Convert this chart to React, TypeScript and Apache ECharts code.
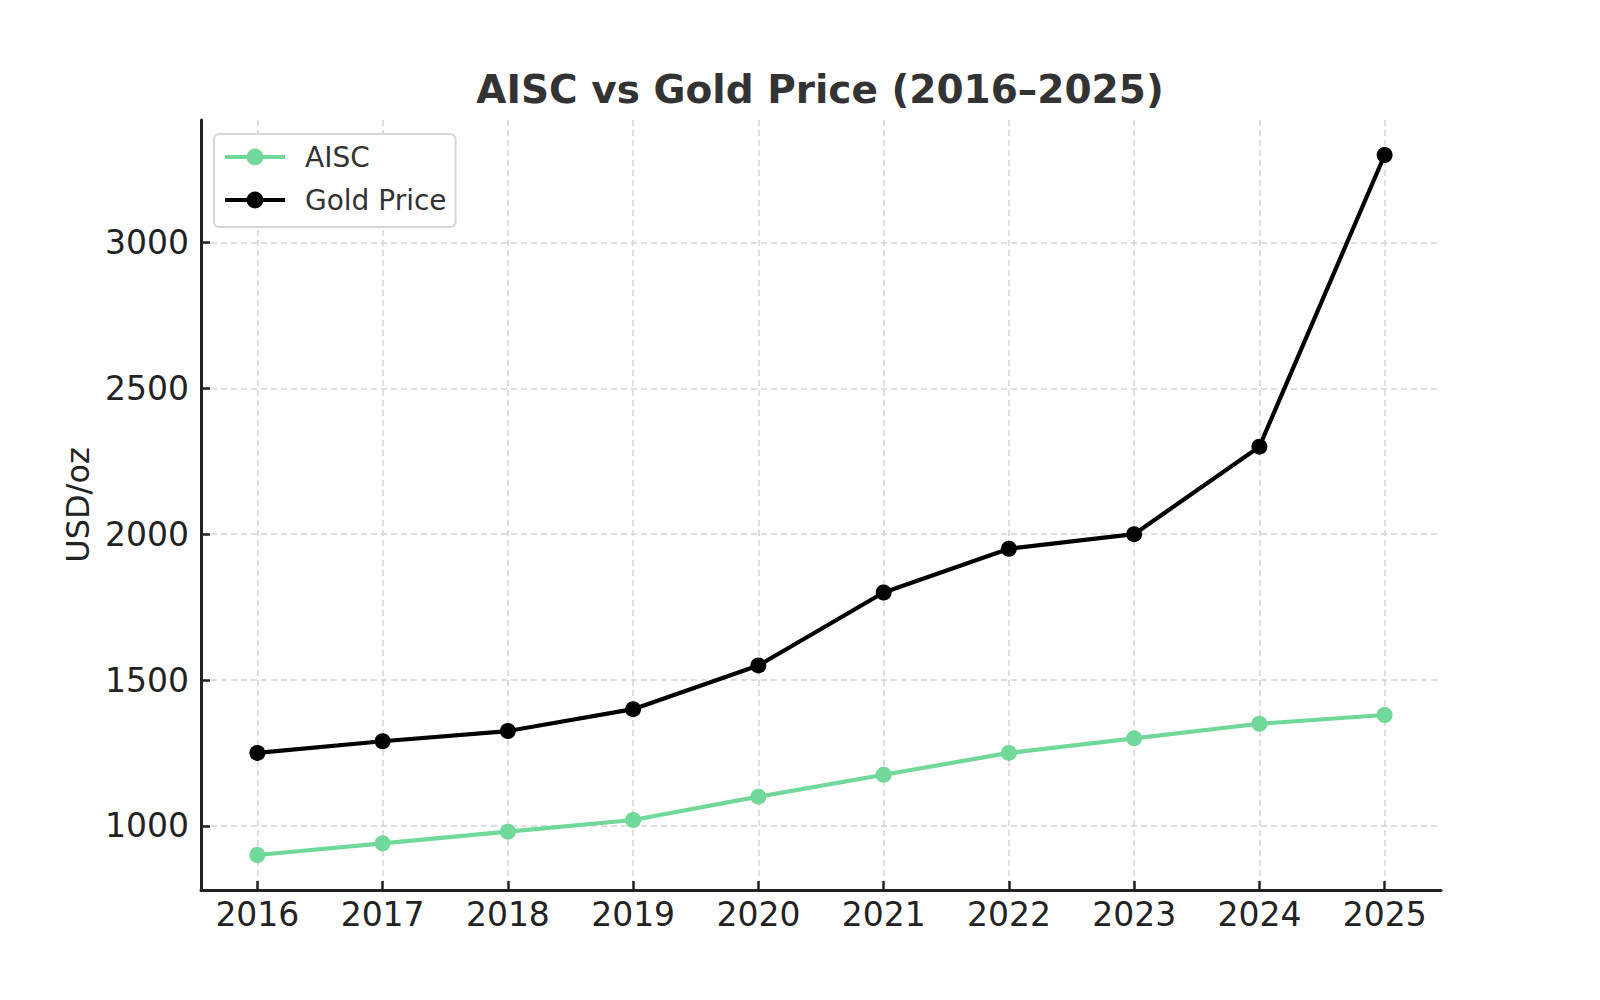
import React, { useEffect, useRef } from "react";
import * as echarts from "echarts";

const years = [2016, 2017, 2018, 2019, 2020, 2021, 2022, 2023, 2024, 2025];
const aisc = [900, 940, 980, 1020, 1100, 1175, 1250, 1300, 1350, 1380];
const gold = [1250, 1290, 1325, 1400, 1550, 1800, 1950, 2000, 2300, 3300];
const yTicks = [1000, 1500, 2000, 2500, 3000];

const FONT = "DejaVu Sans";
const AXIS = "#222222";
const GRID = "#d4d4d4";
const GREEN = "#70d898";

export default function App() {
  const ref = useRef<HTMLDivElement>(null);
  useEffect(() => {
    if (!ref.current) return;
    const chart = echarts.init(ref.current, null, { renderer: "svg" });
    const toPairs = (vals: number[]) => years.map((y, i) => [y, vals[i]]);
    chart.setOption({
      animation: false,
      backgroundColor: "#ffffff",
      textStyle: { fontFamily: FONT },
      title: {
        text: "AISC vs Gold Price (2016–2025)",
        left: 815,
        textAlign: "center",
        top: 65,
        textStyle: { fontFamily: FONT, fontSize: 39, fontWeight: "bold", color: "#333333" },
      },
      legend: {
        left: 214,
        top: 134,
        orient: "vertical",
        itemWidth: 60,
        itemHeight: 21,
        itemGap: 15,
        padding: [9, 9, 13, 9],
        borderColor: "#d6d6d6",
        borderWidth: 2,
        borderRadius: 5,
        backgroundColor: "#ffffff",
        lineStyle: { width: 4 },
        textStyle: { fontFamily: FONT, fontSize: 28, color: "#333333", padding: [0, 0, 0, 15] },
        data: ["AISC", "Gold Price"],
      },
      grid: { left: 201, right: 159, top: 120, bottom: 110, containLabel: false },
      xAxis: {
        type: "value",
        min: 2015.55,
        max: 2025.45,
        axisLine: { show: true, lineStyle: { color: AXIS, width: 3 } },
        axisTick: { show: true, inside: true, length: 9, lineStyle: { color: AXIS, width: 2.5 }, customValues: years },
        axisLabel: { customValues: years, fontFamily: FONT, fontSize: 33, color: AXIS, margin: 8, formatter: (v: number) => String(v) },
        splitLine: { show: true, lineStyle: { color: GRID, width: 1.5, type: [6, 4] } },
      },
      yAxis: {
        type: "value",
        min: 780,
        max: 3420,
        name: "USD/oz",
        nameLocation: "middle",
        nameRotate: 90,
        nameGap: 102,
        nameTextStyle: { fontFamily: FONT, fontSize: 32, color: AXIS },
        axisLine: { show: true, lineStyle: { color: AXIS, width: 3 } },
        axisTick: { show: true, inside: true, length: 9, lineStyle: { color: AXIS, width: 2.5 }, customValues: yTicks },
        axisLabel: { customValues: yTicks, fontFamily: FONT, fontSize: 33, color: AXIS, margin: 12, formatter: (v: number) => String(v) },
        splitLine: { show: true, lineStyle: { color: GRID, width: 1.5, type: [6, 4] } },
      },
      series: [
        {
          name: "AISC",
          type: "line",
          data: toPairs(aisc),
          symbol: "circle",
          symbolSize: 16,
          color: GREEN,
          lineStyle: { color: GREEN, width: 4.2 },
          itemStyle: { color: GREEN },
          z: 3,
        },
        {
          name: "Gold Price",
          type: "line",
          data: toPairs(gold),
          symbol: "circle",
          symbolSize: 16,
          color: "#000000",
          lineStyle: { color: "#000000", width: 4.2 },
          itemStyle: { color: "#000000" },
          z: 4,
        },
      ],
    });
    return () => chart.dispose();
  }, []);
  return (
    <div
      ref={ref}
      style={{ position: "fixed", left: 0, top: 0, width: 1600, height: 1000, background: "#fff" }}
    />
  );
}
